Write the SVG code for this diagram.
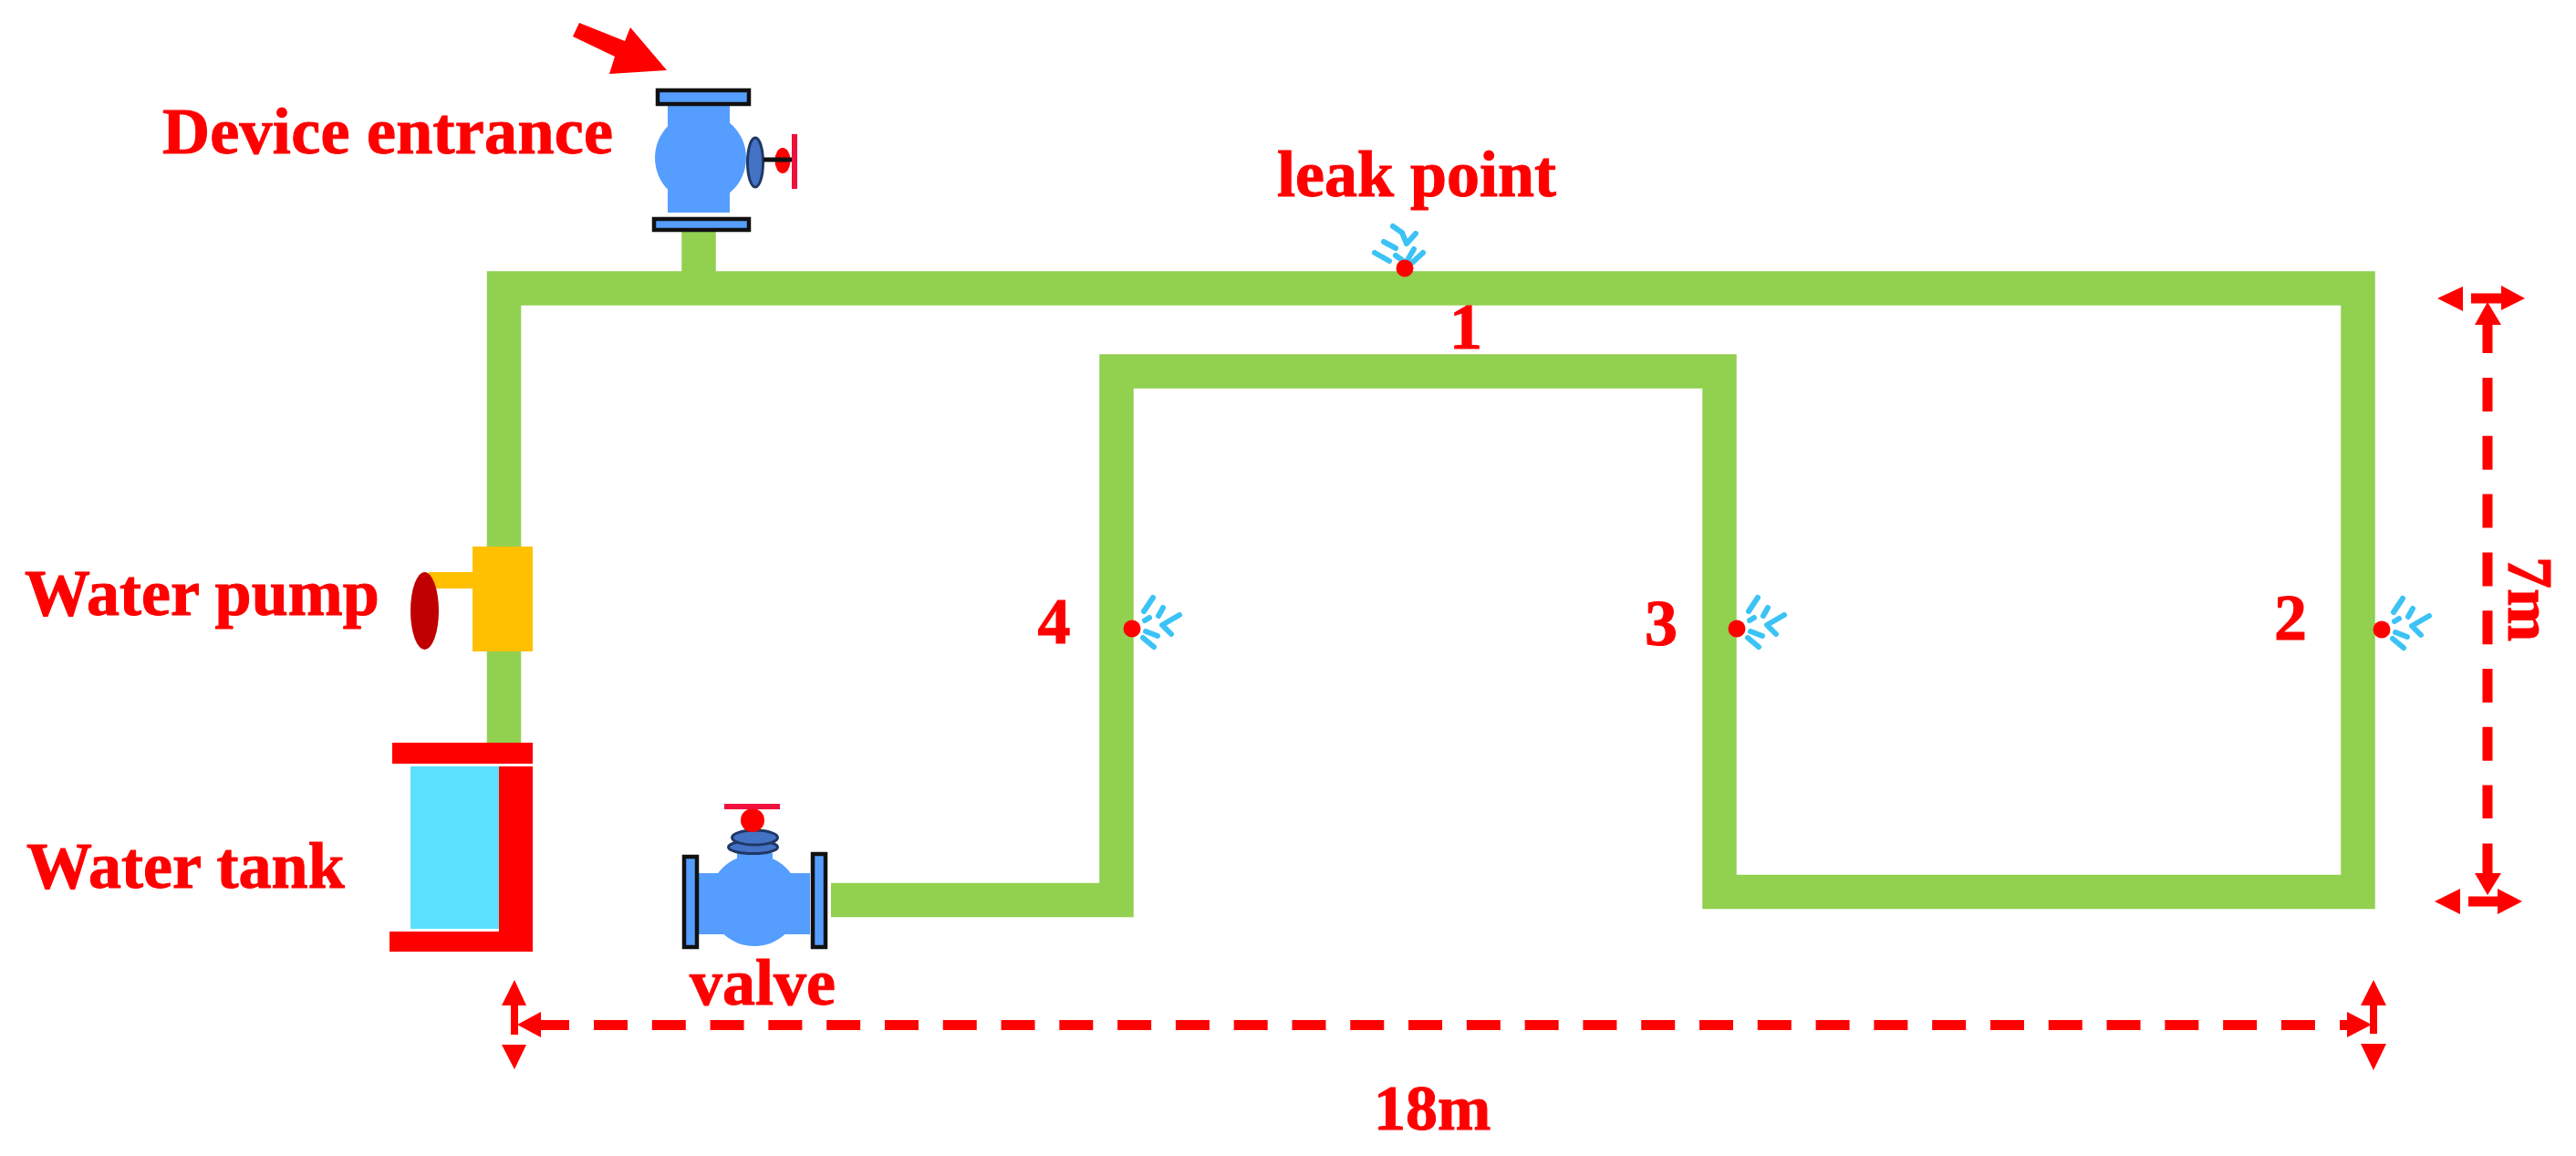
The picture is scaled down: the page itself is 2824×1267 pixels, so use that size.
<svg xmlns="http://www.w3.org/2000/svg" xmlns:xlink="http://www.w3.org/1999/xlink" width="2824" height="1267" viewBox="0 0 2824 1267">
<style>
text{font-family:"Liberation Serif","Times New Roman",serif;font-weight:bold;font-size:72px;fill:#ff0000;stroke:#ff0000;stroke-width:1}
.pipe{fill:none;stroke:#92d050;stroke-width:37.500;stroke-linejoin:miter}
.dim{fill:none;stroke:#ff0000;stroke-width:11}
.thin{fill:none;stroke:#ff0000;stroke-width:8}
.head{fill:#ff0000}
.flange{fill:#559eff;stroke:#111;stroke-width:4.500}
.body{fill:#559eff}
.cap{fill:#4472c4;stroke:#1f3864;stroke-width:3}
.spray path{fill:none;stroke:#3cc3f5;stroke-width:6;stroke-linecap:round;stroke-linejoin:round}
.dot{fill:#ff0000}
</style>
<defs>
<g id="spray-up" class="spray">
<path d="M-13,-46L-3,-39L2,-27L12,-38"/><path d="M-23,-29L-10,-22"/><path d="M-33,-17L-17,-8"/><path d="M-10,-14L-3,-9"/><path d="M3,-9L10,-21"/><path d="M8,-6L20,-17"/>
</g>
<g id="spray-side" class="spray">
<path d="M52,-15L33,-4L43,6"/><path d="M29,-14L34,-23"/><path d="M13,-19L23,-34"/><path d="M14,-9L19,-12"/><path d="M15,3L28,8"/><path d="M12,10L24,20"/>
</g>
</defs>
<rect width="2824" height="1267" fill="#ffffff"/>
<g id="connectors">
<path class="pipe" d="M552.500,814V316H2585V977.500H1885V407H1224V986.500H911"/>
<path class="pipe" d="M766,253V316"/>
<g id="dim-horizontal">
<path class="dim" d="M651,1123.500H2538" stroke-dasharray="37 26.790"/>
<path class="dim" d="M593,1123.500H624M2565,1123.500H2575"/>
<polygon class="head" points="567,1123 593,1109 593,1137"/>
<polygon class="head" points="2600,1123 2573,1109 2573,1137"/>
<path class="thin" d="M564,1100V1134M2602,1100V1133"/>
<polygon class="head" points="564,1074 577,1102 550,1102"/>
<polygon class="head" points="564,1172 577,1145 550,1145"/>
<polygon class="head" points="2602,1074 2616,1102 2588,1102"/>
<polygon class="head" points="2602,1173 2616,1144 2588,1144"/>
</g>
<g id="dim-vertical">
<path class="dim" d="M2727,414V897" stroke-dasharray="37 26.800"/>
<path class="dim" d="M2727,356V387M2727,924.500V957"/>
<polygon class="head" points="2727,331 2742,356 2713,356"/>
<polygon class="head" points="2727,981 2742,957 2713,957"/>
<path class="dim" d="M2709,327H2742M2706,988H2738"/>
<polygon class="head" points="2672,327 2700,314 2700,341"/>
<polygon class="head" points="2768,327 2742,313 2742,340"/>
<polygon class="head" points="2669,988 2697,974 2697,1002"/>
<polygon class="head" points="2765,988 2738,974 2738,1002"/>
</g>
</g>
<g id="entrance-arrow"><polygon class="head" points="628,40 635,25 685,45 691,30 731,77 668,81 674,62"/></g>
<g id="entrance-valve">
<rect class="body" x="732" y="115" width="68" height="118"/>
<circle class="body" cx="768" cy="173" r="50"/>
<rect class="flange" x="721" y="99" width="100" height="15"/>
<rect class="flange" x="717" y="240" width="104" height="12"/>
<ellipse class="cap" cx="828" cy="178" rx="8.500" ry="27"/>
<ellipse cx="858" cy="176" rx="8.500" ry="14" fill="#ff0000"/>
<path d="M837,175H874" stroke="#111" stroke-width="5"/>
<path d="M871,147V207" stroke="#f0103c" stroke-width="6"/>
</g>
<g id="water-pump">
<rect x="518" y="599" width="66" height="115" fill="#ffc000"/>
<rect x="470" y="627" width="48" height="18" fill="#ffc000"/>
<ellipse cx="465.500" cy="669.500" rx="15.500" ry="42.500" fill="#c00000"/>
</g>
<g id="water-tank">
<rect x="450" y="840" width="97" height="178" fill="#5be0ff"/>
<rect x="430" y="814" width="154" height="23" fill="#ff0000"/>
<path d="M547,840H584V1043H427V1021H547Z" fill="#ff0000"/>
</g>
<g id="valve">
<rect class="body" x="808" y="935" width="39" height="16"/>
<rect class="body" x="765" y="957" width="123" height="67"/>
<circle class="body" cx="827" cy="987" r="50"/>
<rect class="flange" x="750" y="939" width="14" height="99"/>
<rect class="flange" x="891" y="936" width="14" height="102"/>
<ellipse class="cap" cx="825.500" cy="928.500" rx="27" ry="7"/>
<ellipse class="cap" cx="827.500" cy="918" rx="25" ry="8"/>
<path d="M824,886V892" stroke="#111" stroke-width="4"/>
<circle cx="825" cy="899" r="13" fill="#ff0000"/>
<rect x="794" y="881" width="61" height="6" fill="#f0103c"/>
</g>
<g id="leak-1"><use xlink:href="#spray-up" href="#spray-up" transform="translate(1540,294)"/><circle class="dot" cx="1540" cy="294" r="9.500"/></g>
<g id="leak-2"><use xlink:href="#spray-side" href="#spray-side" transform="translate(2611,690)"/><circle class="dot" cx="2611" cy="690" r="9.500"/></g>
<g id="leak-3"><use xlink:href="#spray-side" href="#spray-side" transform="translate(1904,689)"/><circle class="dot" cx="1904" cy="689" r="9.500"/></g>
<g id="leak-4"><use xlink:href="#spray-side" href="#spray-side" transform="translate(1241,689)"/><circle class="dot" cx="1241" cy="689" r="9.500"/></g>
<g id="labels">
<text x="178" y="168" letter-spacing="0.300">Device entrance</text>
<text x="1400" y="215">leak point</text>
<text x="27" y="674">Water pump</text>
<text x="29" y="973">Water tank</text>
<text x="756" y="1101">valve</text>
<text x="1607" y="382" text-anchor="middle">1</text>
<text x="2511" y="701" text-anchor="middle">2</text>
<text x="1821" y="707" text-anchor="middle">3</text>
<text x="1155.500" y="705" text-anchor="middle">4</text>
<text x="1506" y="1238" font-size="70" style="font-size:70px">18m</text>
<text transform="translate(2750,610) rotate(90)" style="font-size:70px">7m</text>
</g>
</svg>
